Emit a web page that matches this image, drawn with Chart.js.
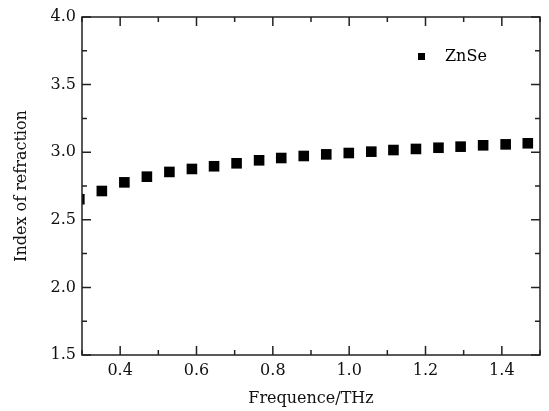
<!DOCTYPE html>
<html>
<head>
<meta charset="utf-8">
<script src="https://cdn.jsdelivr.net/npm/chart.js@4/dist/chart.umd.min.js"></script>
<style>
    html, body { margin: 0; padding: 0; background: #fff; }
    #wrap { width: 549px; height: 411px; }
</style>
</head>
<body>
<div id="wrap"><canvas id="myChart" width="549" height="411"></canvas></div>
<script>
// refraction index of ZnSe
var frequenz = [0.293, 0.352, 0.411, 0.470, 0.529, 0.588, 0.646, 0.705, 0.764, 0.822, 0.881,
                0.940, 0.999, 1.058, 1.116, 1.175, 1.234, 1.292, 1.351, 1.410, 1.468];
var brechung = [2.652, 2.713, 2.777, 2.819, 2.854, 2.876, 2.896, 2.918, 2.940, 2.957, 2.972,
                2.984, 2.994, 3.004, 3.016, 3.024, 3.033, 3.041, 3.051, 3.058, 3.066];
var serieName = "ZnSe";
var xTicks = [0.4, 0.6, 0.8, 1.0, 1.2, 1.4];
var xMinor = [0.3, 0.5, 0.7, 0.9, 1.1, 1.3, 1.5];
var yTicks = [1.5, 2.0, 2.5, 3.0, 3.5, 4.0];
var yMinor = [1.75, 2.25, 2.75, 3.25, 3.75];

var schrift = "'DejaVu Serif', serif";

// frame with inward ticks on all four sides + legend inside the plot
var rahmenPlugin = {
    id: 'rahmen',
    afterDatasetsDraw: function (chart) {
        var ctx = chart.ctx;
        var a = chart.chartArea;
        var xs = chart.scales.x;
        var ys = chart.scales.y;
        ctx.save();
        ctx.strokeStyle = "#222";
        ctx.lineWidth = 1.5;
        ctx.strokeRect(a.left, a.top, a.right - a.left, a.bottom - a.top);
        ctx.beginPath();
        function xMark(v, len) {
            var px = xs.getPixelForValue(v);
            ctx.moveTo(px, a.bottom); ctx.lineTo(px, a.bottom - len);
            ctx.moveTo(px, a.top); ctx.lineTo(px, a.top + len);
        }
        function yMark(v, len) {
            var py = ys.getPixelForValue(v);
            ctx.moveTo(a.left, py); ctx.lineTo(a.left + len, py);
            ctx.moveTo(a.right, py); ctx.lineTo(a.right - len, py);
        }
        xTicks.forEach(v => xMark(v, 9));
        xMinor.forEach(v => xMark(v, 5));
        yTicks.forEach(v => yMark(v, 9));
        yMinor.forEach(v => yMark(v, 5));
        ctx.stroke();

        // legend
        var ds = chart.data.datasets[0];
        ctx.fillStyle = "#000";
        ctx.fillRect(418, 53, 7, 7);
        ctx.font = "16px " + schrift;
        ctx.textBaseline = "middle";
        ctx.textAlign = "left";
        ctx.fillText(ds.label, 445, 57);
        ctx.restore();
    }
};

var canvas = document.getElementById('myChart');
var mychart = new Chart(canvas, {
    type: 'scatter',
    data: {
        datasets: [{
                label: serieName,
                data: frequenz.map((f, i) => ({x: f, y: brechung[i]})),
                pointStyle: 'rect',
                pointRadius: 7.5,
                pointHoverRadius: 7.5,
                backgroundColor: "#000",
                borderColor: "#000",
                borderWidth: 0,
                clip: 0
            }
        ]
    },
    options: {
        responsive: false,
        animation: false,
        events: [],
        layout: {
            padding: {left: 0, top: 17, right: 9, bottom: 0}
        },
        plugins: {
            legend: {display: false},
            tooltip: {enabled: false}
        },
        scales: {
            x: {
                type: 'linear',
                min: 0.3,
                max: 1.5,
                afterBuildTicks: function (scale) {
                    scale.ticks = xTicks.map(v => ({value: v}));
                },
                afterFit: function (scale) {
                    scale.height = 56;
                },
                grid: {display: false, drawTicks: false},
                border: {display: false},
                ticks: {
                    padding: 6,
                    color: "#111",
                    font: {family: schrift, size: 16},
                    maxRotation: 0,
                    autoSkip: false,
                    callback: v => v.toFixed(1)
                },
                title: {
                    display: true,
                    text: "Frequence/THz",
                    color: "#111",
                    font: {family: schrift, size: 16},
                    padding: {top: 0, bottom: 3}
                }
            },
            y: {
                type: 'linear',
                min: 1.5,
                max: 4.0,
                afterBuildTicks: function (scale) {
                    scale.ticks = yTicks.map(v => ({value: v}));
                },
                afterFit: function (scale) {
                    scale.width = 82;
                },
                grid: {display: false, drawTicks: false},
                border: {display: false},
                ticks: {
                    padding: 6,
                    color: "#111",
                    font: {family: schrift, size: 16},
                    callback: v => v.toFixed(1)
                },
                title: {
                    display: true,
                    text: "Index of refraction",
                    color: "#111",
                    font: {family: schrift, size: 16},
                    padding: {top: 12, bottom: 0}
                }
            }
        }
    },
    plugins: [rahmenPlugin]
});
</script>
</body>
</html>
